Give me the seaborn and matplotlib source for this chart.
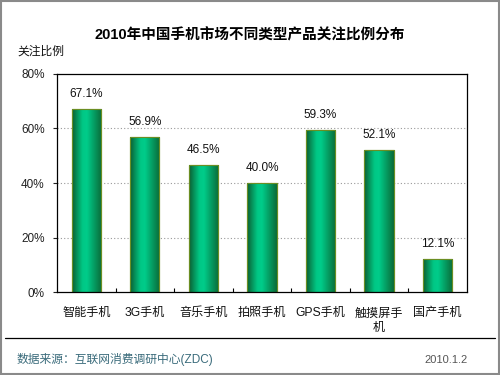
import matplotlib
matplotlib.use("Agg")
import matplotlib.pyplot as plt
import seaborn as sns
import numpy as np
import pandas as pd
from matplotlib.colors import LinearSegmentedColormap
from matplotlib.patches import Rectangle
from matplotlib.lines import Line2D
from matplotlib.ticker import FixedLocator, PercentFormatter

categories = ["智能手机", "3G手机", "音乐手机", "拍照手机", "GPS手机", "触摸屏手\n机", "国产手机"]
values = [67.1, 56.9, 46.5, 40.0, 59.3, 52.1, 12.1]
y_ticks = [0, 20, 40, 60, 80]
title = "2010年中国手机市场不同类型产品关注比例分布"
y_label = "关注比例"
source = "数据来源：互联网消费调研中心(ZDC)"
date_text = "2010.1.2"

sns.set_theme(style="white")
plt.rcParams['font.family'] = ['Liberation Sans', 'Noto Sans CJK SC', 'DejaVu Sans']

df = pd.DataFrame({"cat": categories, "val": values})

fig = plt.figure(figsize=(5, 3.75), dpi=100)
fig.patch.set_facecolor("white")
ax = fig.add_axes([0.114, 0.221, 0.82, 0.582])

sns.barplot(data=df, x="cat", y="val", ax=ax, width=0.5, color="#00a060",
            edgecolor="#6b8e23", linewidth=0.8, saturation=1)

ax.set_ylim(0, 80)
ax.set_xlim(-0.5, len(categories) - 0.5)

# gradient fill clipped to each bar
cmap = LinearSegmentedColormap.from_list(
    "bar", [(0.0, "#0b5e32"), (0.35, "#00c885"), (0.5, "#00cc8a"), (1.0, "#0a6a38")])
grad = np.linspace(0, 1, 256).reshape(1, -1)
for p in ax.patches:
    x0, y0 = p.get_x(), p.get_y()
    w, h = p.get_width(), p.get_height()
    im = ax.imshow(grad, extent=[x0, x0 + w, y0, y0 + h], cmap=cmap,
                   aspect="auto", zorder=p.get_zorder() + 0.1, interpolation="bicubic")
    im.set_clip_path(p)
    border = Rectangle((x0, y0), w, h, fill=False, edgecolor="#6b8e23",
                       linewidth=0.8, zorder=p.get_zorder() + 0.2)
    ax.add_patch(border)
ax.set_ylim(0, 80)
ax.set_xlim(-0.5, len(categories) - 0.5)

for i, v in enumerate(values):
    ax.annotate(f"{v:.1f}%", (i, v), xytext=(0, 6.5), textcoords="offset points",
                ha="center", va="bottom", fontsize=8.5, color="#111111")

# grid
for g in [20, 40, 60]:
    ax.axhline(g, color="#999999", linestyle=(0, (1, 2)), linewidth=0.8, zorder=0)

ax.set_yticks(y_ticks)
ax.yaxis.set_major_formatter(PercentFormatter(decimals=0))
ax.tick_params(axis="y", labelsize=8.5, length=3, width=0.8, direction="out",
               left=True, colors="#222222", pad=6)
ax.tick_params(axis="x", labelsize=8.7, length=0, pad=11, colors="#111111")
ax.xaxis.set_minor_locator(FixedLocator(np.arange(0.5, len(categories) - 0.5, 1)))
ax.tick_params(axis="x", which="minor", bottom=True, length=3, width=0.8,
               direction="in", color="black")
for lbl in ax.get_xticklabels():
    lbl.set_linespacing(1.3)
    lbl.set_va("top")
ax.set_xlabel("")
ax.set_ylabel("")
for s in ax.spines.values():
    s.set_visible(True)
    s.set_color("black")
    s.set_linewidth(0.9)

fig.text(0.5, 0.907, title, ha="center", va="center", fontsize=10.5, fontweight="bold",
         color="black")
fig.text(0.034, 0.861, y_label, ha="left", va="center", fontsize=8.5, color="#111111")

# footer
fig.add_artist(Line2D([0.01, 0.99], [0.099, 0.099], transform=fig.transFigure,
                      color="black", linewidth=0.9))
fig.text(0.034, 0.04, source, ha="left", va="center", fontsize=8.5, color="#3a6b7b")
fig.text(0.936, 0.04, date_text, ha="right", va="center", fontsize=8, color="#555555")

fig.add_artist(Rectangle((0.002, 0.003), 0.996, 0.994, transform=fig.transFigure,
                         fill=False, edgecolor="#8a8a8a", linewidth=1.5))

fig.savefig("out.png", dpi=100)
